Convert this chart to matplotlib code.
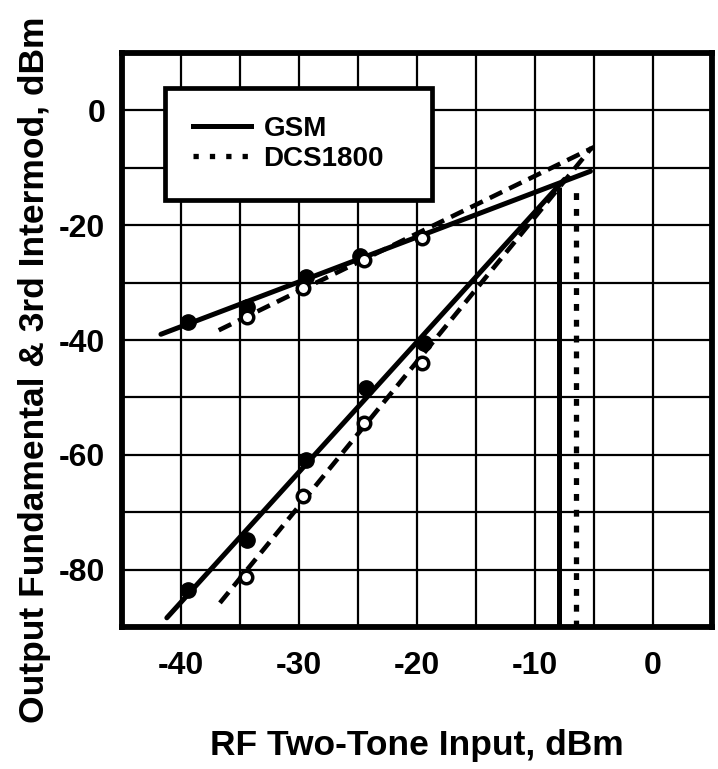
import matplotlib
matplotlib.use("Agg")
import matplotlib.pyplot as plt
from matplotlib.lines import Line2D
import numpy as np

plt.rcParams['font.family'] = ['Liberation Sans', 'DejaVu Sans']
plt.rcParams['font.weight'] = 'bold'

# ---- data ----
gsm_fund_x = [-39.4, -34.4, -29.4, -24.8]
gsm_fund_y = [-36.9, -34.3, -29.1, -25.4]
dcs_fund_x = [-34.4, -29.7, -24.5, -19.6]
dcs_fund_y = [-36.0, -31.0, -26.0, -22.2]
gsm_im3_x = [-39.4, -34.4, -29.4, -24.3, -19.4]
gsm_im3_y = [-83.6, -74.8, -60.9, -48.4, -40.5]
dcs_im3_x = [-34.5, -29.7, -24.5, -19.6]
dcs_im3_y = [-81.3, -67.2, -54.5, -44.0]

# fitted lines (end points)
gsm_fund_fit_x = [-41.7, -5.3]
gsm_fund_fit_y = [-39.0, -10.6]
gsm_im3_fit_x = [-41.2, -7.5]
gsm_im3_fit_y = [-88.4, -12.0]
dcs_fund_fit_x = [-36.8, -5.0]
dcs_fund_fit_y = [-38.3, -6.4]
dcs_im3_fit_x = [-36.7, -5.2]
dcs_im3_fit_y = [-85.8, -6.5]

# intercept markers (vertical lines)
gsm_ip3_x = -8.0
dcs_ip3_x = -6.5
ip3_line_top = -13.3

x_ticks = [-40, -30, -20, -10, 0]
y_ticks = [0, -20, -40, -60, -80]
x_grid = np.arange(-45, 6, 5)
y_grid = np.arange(-90, 11, 10)

fig = plt.figure(figsize=(7.18, 7.69), dpi=100)
ax = fig.add_axes([122/718, 1-627/769, 590/718, 574/769])
ax.set_xlim(-45, 5)
ax.set_ylim(-90, 10)

ax.set_xticks(x_ticks)
ax.set_yticks(y_ticks)
ax.set_xticks(x_grid, minor=True)
ax.set_yticks(y_grid, minor=True)
ax.grid(which='minor', color='black', linewidth=1.6)
ax.grid(which='major', color='black', linewidth=1.6)
ax.set_axisbelow(True)
ax.tick_params(which='both', length=0)
ax.tick_params(axis='x', labelsize=23, pad=17)
ax.tick_params(axis='y', labelsize=23, pad=12)
fmt = matplotlib.ticker.FuncFormatter(lambda v, p: f"{int(v)}")
ax.xaxis.set_major_formatter(fmt)
ax.yaxis.set_major_formatter(fmt)
for lab in ax.get_xticklabels() + ax.get_yticklabels():
    lab.set_fontweight('bold')
for s in ax.spines.values():
    s.set_linewidth(4.2)
    s.set_zorder(10)

# vertical intercept lines
ax.plot([gsm_ip3_x, gsm_ip3_x], [-90, ip3_line_top], color='black', lw=3.6, solid_capstyle='butt', zorder=3)
ax.plot([dcs_ip3_x, dcs_ip3_x], [-90, ip3_line_top], color='black', lw=3.8,
        linestyle=(0, (1.3, 1.7)), dash_capstyle='butt', zorder=3)

# fitted lines
ax.plot(gsm_fund_fit_x, gsm_fund_fit_y, color='black', lw=3.6, solid_capstyle='round', zorder=4)
ax.plot(gsm_im3_fit_x, gsm_im3_fit_y, color='black', lw=3.6, solid_capstyle='round', zorder=4)
ax.plot(dcs_fund_fit_x, dcs_fund_fit_y, color='black', lw=3.3, linestyle=(0, (3, 1.7)), zorder=4)
ax.plot(dcs_im3_fit_x, dcs_im3_fit_y, color='black', lw=3.3, linestyle=(0, (3, 1.7)), zorder=4)

# data points
ax.plot(gsm_fund_x, gsm_fund_y, 'o', color='black', ms=11, zorder=5)
ax.plot(gsm_im3_x, gsm_im3_y, 'o', color='black', ms=11, zorder=5)
ax.plot(dcs_fund_x, dcs_fund_y, 'o', mfc='white', mec='black', mew=2.5, ms=9, zorder=6)
ax.plot(dcs_im3_x, dcs_im3_y, 'o', mfc='white', mec='black', mew=2.5, ms=9, zorder=6)

# legend
handles = [Line2D([], [], color='black', lw=3.6),
           Line2D([], [], color='black', lw=3.8, linestyle=(0, (1.0, 2.1)), dash_capstyle='butt')]
leg = ax.legend(handles, ['GSM', 'DCS1800'], loc='upper left',
                bbox_to_anchor=(43/590, 539/574, 267/590, 0.0), mode='expand',
                prop={'family': 'Liberation Sans', 'weight': 'bold', 'size': 20},
                frameon=True, fancybox=False, edgecolor='black', framealpha=1,
                borderpad=1.0, labelspacing=0.15, handlelength=2.1, handletextpad=0.45,
                borderaxespad=0)
leg.get_frame().set_linewidth(3.4)
leg.set_zorder(20)

fig.text(417/718, 1-755/769, 'RF Two-Tone Input, dBm', ha='center', va='baseline',
         fontsize=25.5, fontweight='bold')
fig.text(44/718, 1-370/769, 'Output Fundamental & 3rd Intermod, dBm', ha='center', va='baseline',
         rotation=90, rotation_mode='anchor', fontsize=25.5, fontweight='bold')

fig.savefig('out.png', dpi=100)
